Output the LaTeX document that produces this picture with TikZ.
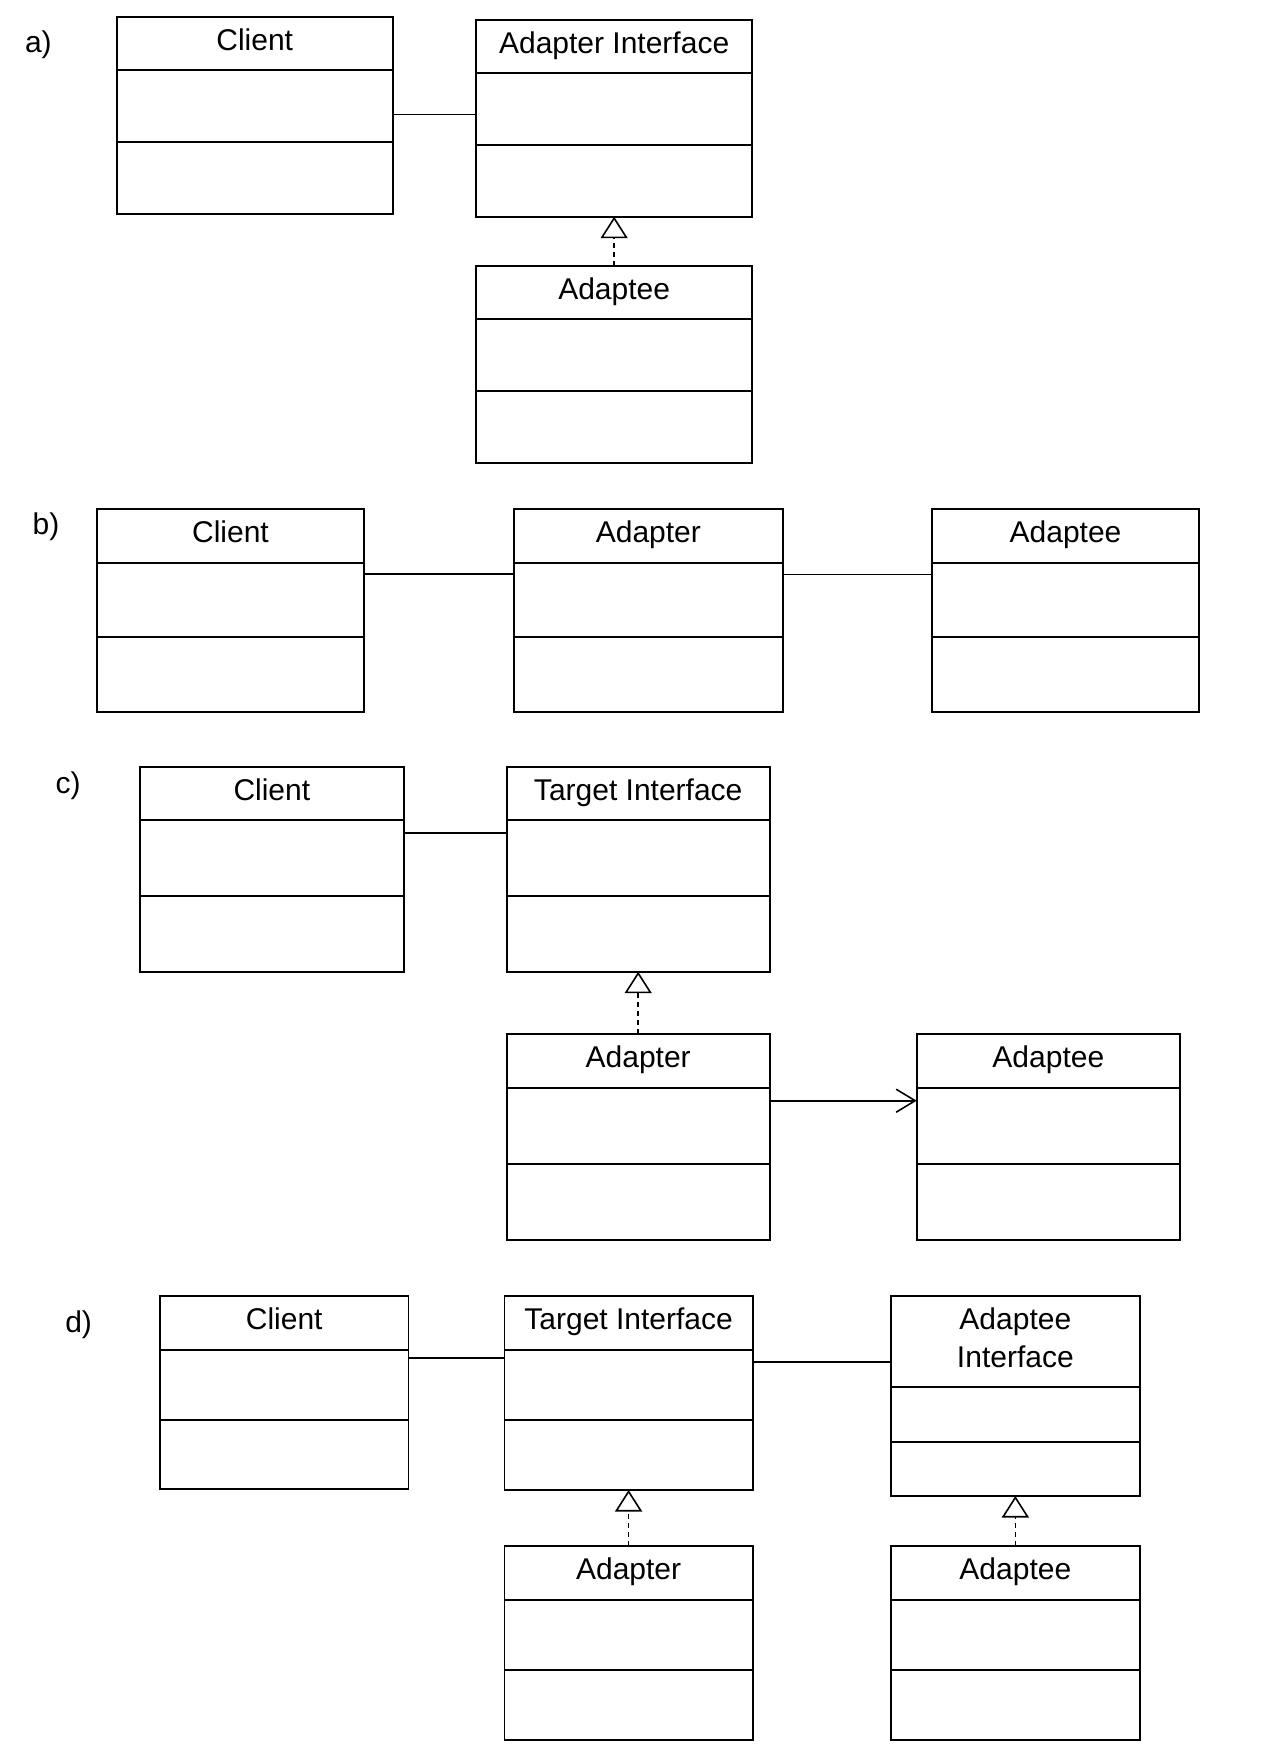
\documentclass[tikz,border=0pt]{standalone}
\usepackage{fontspec}
\setmainfont{Liberation Sans}
\usetikzlibrary{arrows.meta}
\tikzset{
  classbox/.style={draw=black, line width=1.8pt, fill=white, inner sep=0pt, outer sep=0pt, rectangle},
  classline/.style={draw=black, line width=1.8pt},
  titletext/.style={inner sep=0pt, outer sep=0pt, font=\fontsize{30}{37.5}\selectfont, align=center, anchor=base},
  sectlabel/.style={inner sep=0pt, outer sep=0pt, font=\fontsize{30}{37.5}\selectfont, anchor=base west},
  conn/.style={draw=black, line width=1.6pt},
  realize/.style={draw=black, line width=1.6pt, dash pattern=on 4.5pt off 4.5pt,
    -{Triangle[open, length=21.5pt, width=27pt, fill=white]}},
  navarrow/.style={draw=black, line width=1.6pt, -{Straight Barb[length=19pt, width=23pt]}}
}
% [#1] extra title options, #2 name, #3 x1, #4 top, #5 x2, #6 bottom, #7 divider1, #8 divider2, #9 title
\newcommand{\umlclass}[9][]{%
  \node[classbox, minimum width={#5-#3}, minimum height={#6-#4}, anchor=north west] (#2) at (#3,#4) {};
  \draw[classline] (#2.west |- 0,#7) -- (#2.east |- 0,#7);
  \draw[classline] (#2.west |- 0,#8) -- (#2.east |- 0,#8);
  \node[titletext, #1] (#2t) at (#2.north |- 0,#4+33.5) {#9};
}
\begin{document}
\begin{tikzpicture}[x=1pt, y=-1pt]
\path[use as bounding box, fill=white] (0,0) rectangle (1280,1760);

% a)
\node[sectlabel] (la) at (25,53) {a)};
\umlclass{aC}{116.7}{16.7}{392.7}{214}{70}{141.7}{Client}
\umlclass{aAI}{476}{20}{752.3}{216.7}{73.3}{145}{Adapter Interface}
\umlclass{aAe}{476}{266}{752.3}{462.7}{319}{390.7}{Adaptee}
\draw[conn] (aC.east |- 0,114.7) -- (aAI.west |- 0,114.7);
\draw[realize] (aAe.north) -- (aAI.south);

% b)
\node[sectlabel] (lb) at (32.7,534) {b)};
\umlclass{bC}{96.7}{509}{364.3}{711.7}{562.7}{636.7}{Client}
\umlclass{bAr}{514}{509}{782.7}{711.7}{562.7}{636.7}{Adapter}
\umlclass{bAe}{931.7}{509}{1199.3}{711.7}{562.7}{636.7}{Adaptee}
\draw[conn] (bC.east |- 0,573.7) -- (bAr.west |- 0,573.7);
\draw[conn] (bAr.east |- 0,574.3) -- (bAe.west |- 0,574.3);

% c)
\node[sectlabel] (lc) at (55.5,793.3) {c)};
\umlclass{cC}{140}{766.7}{403.7}{971.7}{820}{895.7}{Client}
\umlclass{cTI}{506.7}{766.7}{769.7}{971.7}{820}{895.7}{Target Interface}
\umlclass{cAr}{506.7}{1033.7}{769.7}{1240}{1087.7}{1164}{Adapter}
\umlclass{cAe}{916.7}{1033.7}{1180}{1240}{1087.7}{1164}{Adaptee}
\draw[conn] (cC.east |- 0,832.7) -- (cTI.west |- 0,832.7);
\draw[realize] (cAr.north) -- (cTI.south);
\draw[navarrow] (cAr.east |- 0,1100.7) -- (cAe.west |- 0,1100.7);

% d)
\node[sectlabel] (ld) at (65.3,1332.3) {d)};
\umlclass{dC}{160}{1295.7}{408.5}{1489}{1349.7}{1420}{Client}
\umlclass{dTI}{504.5}{1295.7}{752.7}{1490}{1349.7}{1420}{Target Interface}
\umlclass[yshift=-37.5pt]{dAI}{890.7}{1296}{1140}{1496}{1387}{1442}{Adaptee\\Interface}
\umlclass{dAr}{504.5}{1545.7}{752.7}{1740}{1600}{1670}{Adapter}
\umlclass{dAe}{890.7}{1545.7}{1140}{1740}{1600}{1670}{Adaptee}
\draw[conn] (dC.east |- 0,1357.7) -- (dTI.west |- 0,1357.7);
\draw[conn] (dTI.east |- 0,1361.7) -- (dAI.west |- 0,1361.7);
\draw[realize] (dAr.north) -- (dTI.south);
\draw[realize] (dAe.north) -- (dAI.south);
\end{tikzpicture}
\end{document}
